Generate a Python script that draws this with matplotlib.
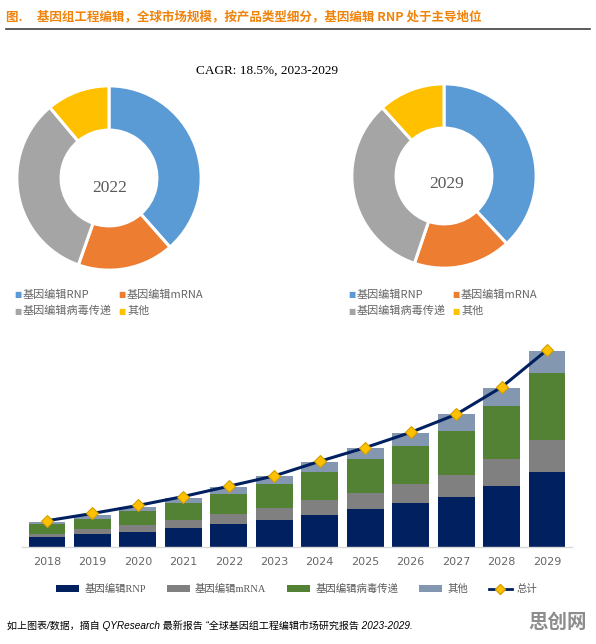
import matplotlib
matplotlib.use("Agg")
import matplotlib.pyplot as plt
from matplotlib.lines import Line2D
from matplotlib.patches import Patch

plt.rcParams['font.family'] = ['Noto Sans CJK SC', 'DejaVu Sans']

W, H = 596, 644

# ---- data ----
title = "图.     基因组工程编辑，全球市场规模，按产品类型细分，基因编辑 RNP 处于主导地位"
cagr_text = "CAGR: 18.5%, 2023-2029"
pie_labels = ["基因编辑RNP", "基因编辑mRNA", "基因编辑病毒传递", "其他"]
pie_2022 = [38.5, 16.9, 33.5, 11.1]
pie_2029 = [38.1, 17.1, 33.1, 11.7]
years = ["2018", "2019", "2020", "2021", "2022", "2023", "2024", "2025", "2026", "2027", "2028", "2029"]
rnp = [30, 38, 46, 57, 68, 81, 97, 113, 132, 151, 184, 226]
mrna = [10, 16, 21, 24, 32, 35, 43, 51, 57, 66, 80, 97]
viral = [28, 31, 41, 51, 60, 73, 86, 100, 115, 133, 160, 200]
other = [7, 11, 13, 15, 21, 24, 30, 33, 38, 49, 55, 67]
total = [79, 101, 125, 152, 183, 214, 258, 299, 345, 399, 481, 593]
bar_labels = ["基因编辑RNP", "基因编辑mRNA", "基因编辑病毒传递", "其他", "总计"]
footer = "如上图表/数据，摘自 QYResearch 最新报告 “全球基因组工程编辑市场研究报告 2023-2029."
watermark = "思创网"

pie_colors = ["#5B9BD5", "#ED7D31", "#A5A5A5", "#FFC000"]
bar_colors = ["#002060", "#808080", "#548235", "#8497B0"]

fig = plt.figure(figsize=(W / 100, H / 100), dpi=100)


def px_axes(x, y, w, h):
    return fig.add_axes([x / W, 1 - (y + h) / H, w / W, h / H])


def fx(x):
    return x / W


def fy(y):
    return 1 - y / H


# title & rule
fig.text(fx(6), fy(17), title, color="#F0830A", fontsize=9, fontweight="bold",
         va="center", ha="left")
fig.add_artist(Line2D([fx(6), fx(590)], [fy(29), fy(29)], color="#404040", lw=1.2))

fig.text(fx(267), fy(71), cagr_text, family=["Liberation Serif", "DejaVu Serif"],
         fontsize=9.5, ha="center", va="center", color="#000000")


def donut(cx, cy, r, vals, label, lx, ly, legx, legy):
    ax = px_axes(cx - r, cy - r, 2 * r, 2 * r)
    ax.pie(vals, colors=pie_colors, startangle=90, counterclock=False,
           radius=1, wedgeprops=dict(width=0.48, edgecolor="white", linewidth=2.2))
    ax.set_xlim(-1.02, 1.02)
    ax.set_ylim(-1.02, 1.02)
    ax.set_aspect("equal")
    ax.axis("off")
    fig.text(fx(lx), fy(ly), label, family=["Liberation Serif", "DejaVu Serif"],
             fontsize=12.5, color="#595959", ha="center", va="center")
    # legend (2x2)
    positions = [(legx[0], legy[0]), (legx[1], legy[0]), (legx[0], legy[1]), (legx[1], legy[1])]
    for (x, y), c, t in zip(positions, pie_colors, pie_labels):
        fig.text(fx(x), fy(y), "■", color=c, fontsize=5.5, ha="left", va="center",
                 family=["DejaVu Sans"])
        fig.text(fx(x + 9), fy(y), t, color="#666666", fontsize=8, ha="left", va="center")


donut(109, 178, 94, pie_2022, "2022", 110, 188, (14, 118), (295, 311))
donut(444, 176, 94, pie_2029, "2029", 447, 184, (348, 452), (295, 311))

# ---- stacked bar chart ----
ppu = 197 / 593.0  # pixels per data unit
ymax = 615
axh = ymax * ppu
ax = px_axes(22, 547 - axh, 550, axh)
xs = list(range(len(years)))
bw = 37 / 45.5
bottom = [0] * len(years)
for vals, c, lab in zip([rnp, mrna, viral, other], bar_colors, bar_labels[:4]):
    ax.bar(xs, vals, bottom=bottom, width=bw, color=c, label=lab, zorder=2)
    bottom = [b + v for b, v in zip(bottom, vals)]
ax.plot(xs, total, color="#002060", lw=2.2, marker="D", markersize=6.5,
        markerfacecolor="#FFC000", markeredgecolor="#D4A000", markeredgewidth=0.8,
        zorder=3, label=bar_labels[4])
ax.set_xlim(-0.55, 11.55)
ax.set_ylim(0, ymax)
ax.set_xticks(xs)
ax.set_xticklabels(years, color="#666666", fontsize=8, family=["DejaVu Sans"])
ax.tick_params(axis="x", length=0, pad=7)
ax.set_yticks([])
for s in ["top", "right", "left"]:
    ax.spines[s].set_visible(False)
ax.spines["bottom"].set_color("#D9D9D9")
ax.spines["bottom"].set_linewidth(1)
ax.patch.set_alpha(0)

handles = [Patch(facecolor=c) for c in bar_colors]
handles.append(Line2D([0], [0], color="#002060", lw=2, marker="D", markersize=5,
                      markerfacecolor="#FFC000", markeredgecolor="#D4A000"))
leg = fig.legend(handles, bar_labels, loc="center", bbox_to_anchor=(fx(297), fy(589)),
                 ncol=5, frameon=False, handlelength=2.2, handleheight=0.55,
                 columnspacing=2.0, handletextpad=0.5,
                 prop={"family": ["Liberation Serif", "Noto Sans CJK SC"], "size": 7.5})
for t in leg.get_texts():
    t.set_color("#595959")

fig.text(fx(7), fy(626), footer, fontsize=7.2, style="italic", color="#000000",
         ha="left", va="center", family=["Liberation Sans", "Noto Sans CJK SC"])
fig.text(fx(587), fy(622), watermark, fontsize=14, fontweight="bold", color="#8C8C8C",
         ha="right", va="center")

fig.savefig("out.png", dpi=100)
